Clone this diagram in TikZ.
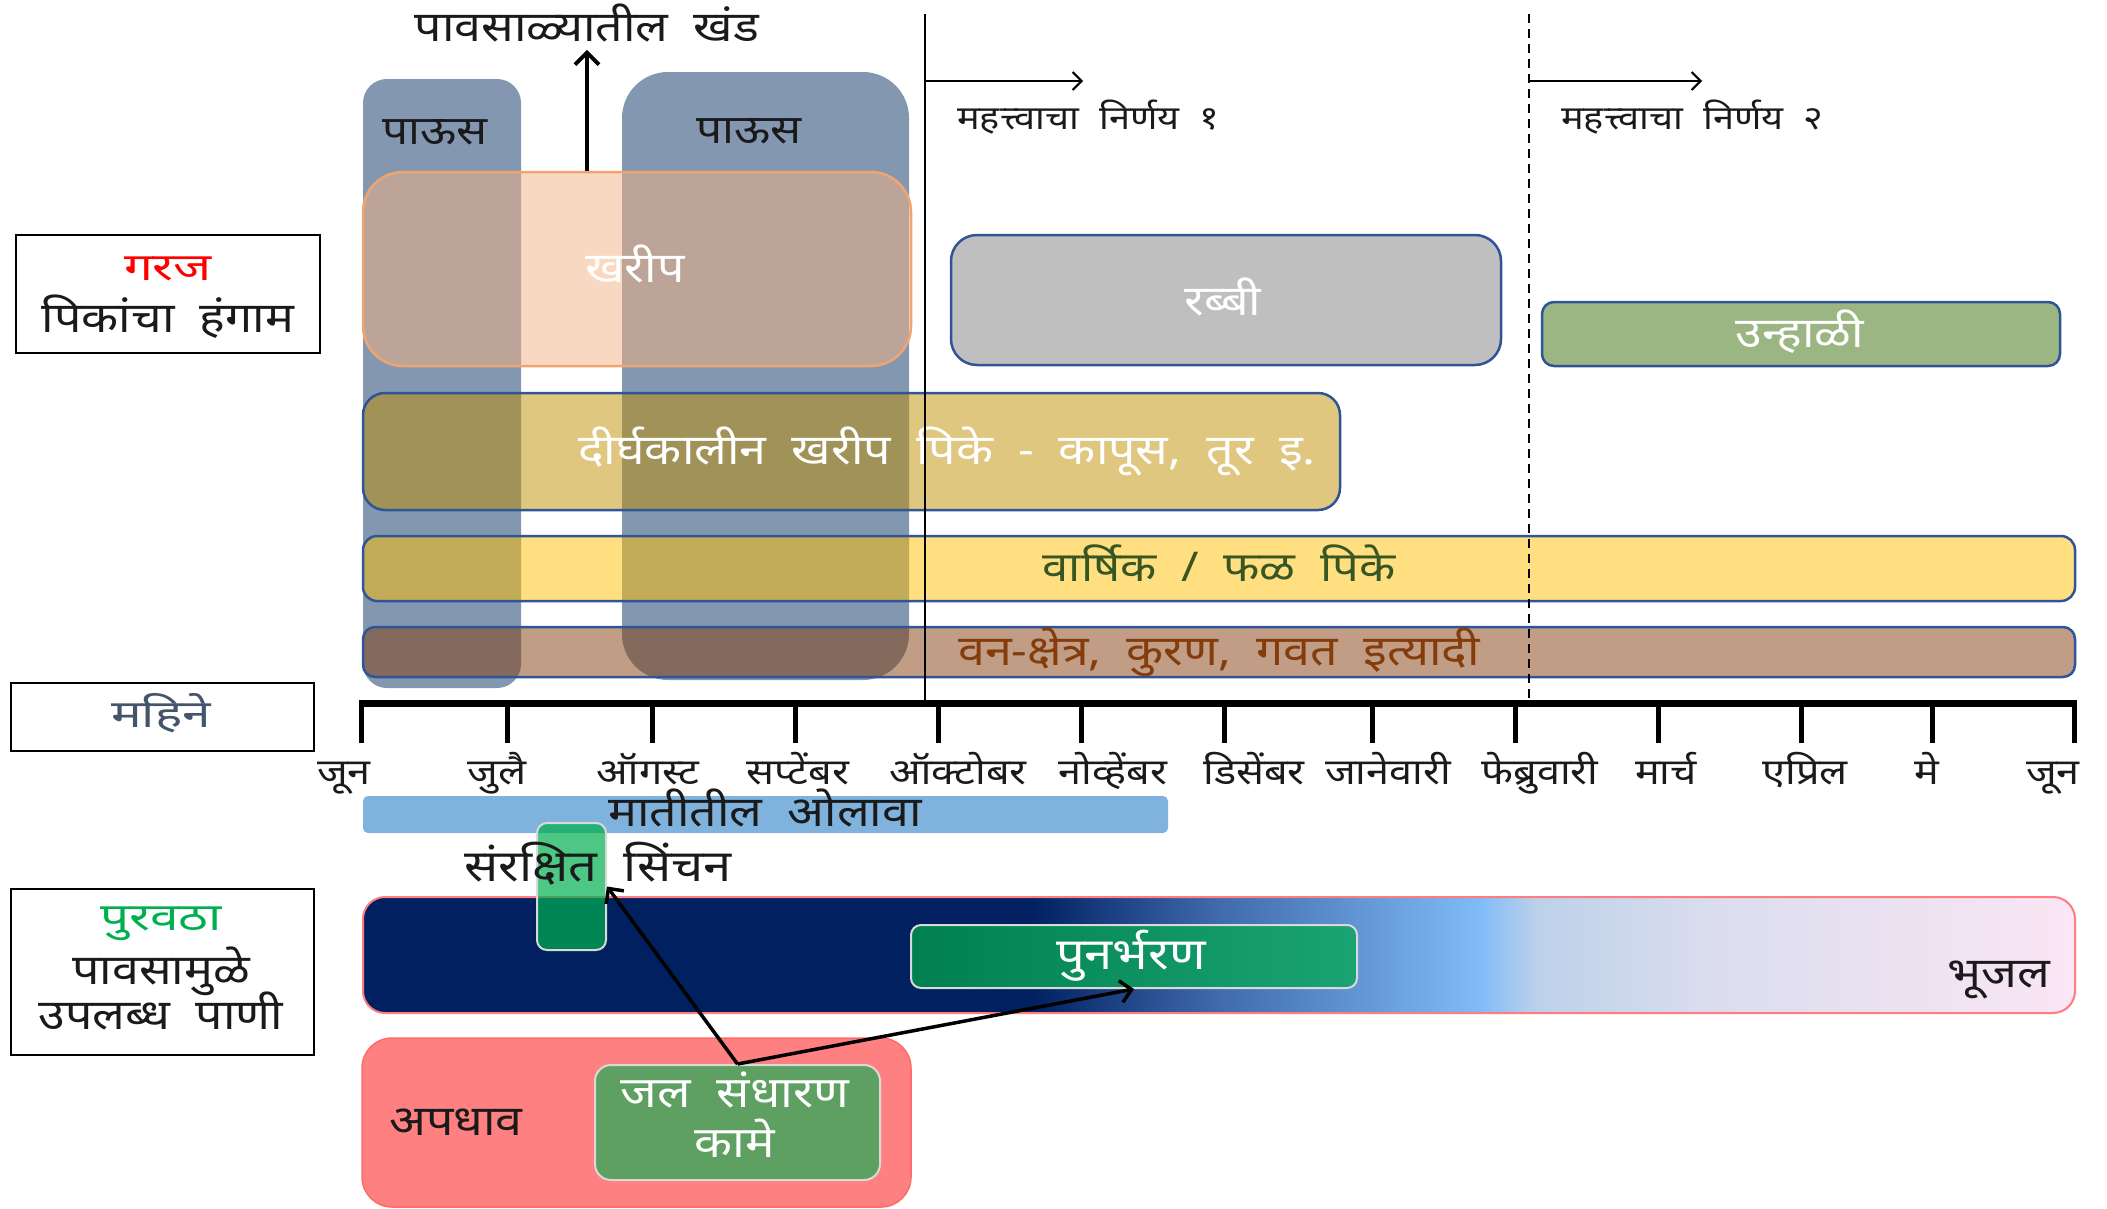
\documentclass[tikz,border=0pt]{standalone}
\usepackage{fontspec}
\newfontfamily\dev[Script=Devanagari, FakeStretch=1.15, WordSpace=2]{Noto Sans}
\newfontfamily\devb[Script=Devanagari, FakeStretch=1.35, WordSpace=2]{Noto Sans}
\usetikzlibrary{arrows.meta,calc}
\definecolor{rainc}{HTML}{8497B0}
\definecolor{khc}{HTML}{F4B183}
\definecolor{khd}{HTML}{F0A470}
\definecolor{goldc}{HTML}{BF8F00}
\definecolor{yelc}{HTML}{FFC000}
\definecolor{brnc}{HTML}{843C0C}
\definecolor{bordc}{HTML}{2F5597}
\definecolor{grayc}{HTML}{BFBFBF}
\definecolor{unhc}{HTML}{9BB583}
\definecolor{soilc}{HTML}{7FB3DD}
\definecolor{navyc}{HTML}{002060}
\definecolor{midbc}{HTML}{3C66A8}
\definecolor{skyc}{HTML}{80BCF8}
\definecolor{palec}{HTML}{BCD1EA}
\definecolor{lavc}{HTML}{DADDEE}
\definecolor{pinkc}{HTML}{FBE6F5}
\definecolor{grnc}{HTML}{00B050}
\definecolor{pgl}{HTML}{008050}
\definecolor{pgr}{HTML}{1BA374}
\definecolor{harvc}{HTML}{5DA061}
\definecolor{runc}{HTML}{FF8080}
\definecolor{runbd}{HTML}{FF6B6B}
\definecolor{dgrnc}{HTML}{375623}
\definecolor{slatec}{HTML}{44546A}
\definecolor{gwbd}{HTML}{FF7C80}
\definecolor{inkc}{HTML}{1A1A1A}
\newcommand\fz[2]{\fontsize{#1}{#2}\selectfont}
\begin{document}
\begin{tikzpicture}[x=1pt,y=-1pt,
  txt/.style={font=\dev\fz{#1}{#1}, inner sep=0pt, anchor=base, text=inkc, yshift=-2pt},
  btxt/.style={font=\devb\bfseries\fz{#1}{#1}, inner sep=0pt, anchor=base, yshift=-2pt},
  rainbox/.style={fill=rainc, inner sep=0pt},
  pane/.style={draw=bordc, line width=2.5pt, fill opacity=0.5, text opacity=1, inner sep=0pt},
  solidbox/.style={draw=bordc, line width=2.5pt, inner sep=0pt},
  keybox/.style={draw=black, line width=2.5pt, inner sep=0pt, fill=white},
  thinarrow/.style={line width=2pt, -{Straight Barb[length=9pt,width=18pt,line width=2pt]}},
  conn/.style={line width=3.5pt, -{Straight Barb[length=11pt,width=22pt,line width=3.5pt]}},
  lightbd/.style={draw=white!70!gray, line width=2pt, inner sep=0pt}
]
\useasboundingbox (0,0) rectangle (2107,1208);

% rain periods
\node[rainbox, rounded corners=24pt, minimum width=158pt, minimum height=609pt] (rain1) at (442,383.5) {};
\node[rainbox, rounded corners=46pt, minimum width=287pt, minimum height=608pt] (rain2) at (765.5,376) {};
\node[txt=40] (rainl1) at (435,142) {पाऊस};
\node[txt=40] (rainl2) at (749,141) {पाऊस};

% crop seasons
\node[pane, draw=khd, fill=khc, rounded corners=40pt, minimum width=548pt, minimum height=194pt] (khareef) at (637,269) {};
\node[txt=42, text=white] (khareefl) at (635,280) {खरीप};
\node[solidbox, fill=grayc, rounded corners=26pt, minimum width=550pt, minimum height=130pt] (rabbi) at (1226,300) {};
\node[txt=42, text=white] (rabbil) at (1223,313) {रब्बी};
\node[solidbox, fill=unhc, rounded corners=12pt, minimum width=518pt, minimum height=64pt] (unhali) at (1801,334) {};
\node[txt=42, text=white] (unhalil) at (1800,345) {उन्हाळी};
\node[pane, fill=goldc, rounded corners=22pt, minimum width=977pt, minimum height=117pt] (dirgha) at (851.5,451.5) {};
\node[txt=42, text=white] (dirghal) at (947,462) {दीर्घकालीन खरीप पिके - कापूस, तूर इ.};
\node[pane, fill=yelc, rounded corners=14pt, minimum width=1712pt, minimum height=65pt] (varshik) at (1219,568.5) {};
\node[txt=41, text=dgrnc] (varshikl) at (1219,579) {वार्षिक / फळ पिके};
\node[pane, fill=brnc, rounded corners=12pt, minimum width=1712pt, minimum height=50pt] (van) at (1219,652) {};
\node[txt=42, text=brnc] (vanl) at (1219,663) {वन-क्षेत्र, कुरण, गवत इत्यादी};

% decision lines
\coordinate (d1top) at (925,14);
\coordinate (d1bot) at (925,703);
\coordinate (d2top) at (1529,14);
\coordinate (d2bot) at (1529,703);
\draw[line width=2pt] (d1top) -- (d1bot);
\draw[line width=2pt, dash pattern=on 9pt off 6pt] (d2top) -- (d2bot);
\coordinate (a1s) at (925,81);
\coordinate (a1e) at (1083,81);
\coordinate (a2s) at (1529,81);
\coordinate (a2e) at (1702,81);
\draw[thinarrow] (a1s) -- (a1e);
\draw[thinarrow] (a2s) -- (a2e);
\node[txt=33, anchor=base west] (dec1) at (957,127) {महत्त्वाचा निर्णय १};
\node[txt=33, anchor=base west] (dec2) at (1561,127) {महत्त्वाचा निर्णय २};

% monsoon break
\node[txt=42] (khand) at (587,39) {पावसाळ्यातील खंड};
\draw[line width=4pt, -{Straight Barb[length=12pt,width=24pt,line width=4pt]}] (khand.south |- khareef.north) -- ([yshift=-8pt]khand.south);

% months axis
\coordinate (axl) at (359,703);
\coordinate (axr) at (2077,703);
\draw[line width=7pt] (axl) -- (axr);
\foreach \tx/\lx/\nm/\lab in {361/344/m1/जून, 507/497/m2/जुलै, 652/648/m3/ऑगस्ट, 795/798/m4/सप्टेंबर, 938/958/m5/ऑक्टोबर, 1081/1113/m6/नोव्हेंबर, 1224/1254/m7/डिसेंबर, 1372/1388/m8/जानेवारी, 1515/1540/m9/फेब्रुवारी, 1658/1666/m10/मार्च, 1801/1805/m11/एप्रिल, 1932/1927/m12/मे, 2074/2053/m13/जून}{
  \draw[line width=5pt] (\tx,703) -- (\tx,743);
  \node[txt=36] (\nm) at (\lx,782) {\lab};
}

% soil moisture
\node[fill=soilc, rounded corners=5pt, minimum width=805pt, minimum height=37pt, inner sep=0pt] (soil) at (765.5,814.5) {};
\node[txt=42] (soill) at (765,824) {मातीतील ओलावा};

% groundwater bar
\begin{scope}
\clip[rounded corners=22pt] (363,897) rectangle (2075,1013);
\fill[navyc] (360,895) rectangle (1031,1015);
\shade[left color=navyc, right color=midbc] (1030,895) rectangle (1206,1015);
\shade[left color=midbc, right color=skyc] (1205,895) rectangle (1481,1015);
\shade[left color=skyc, right color=palec] (1480,895) rectangle (1537,1015);
\shade[left color=palec, right color=lavc] (1536,895) rectangle (1707,1015);
\shade[left color=lavc, right color=pinkc] (1706,895) rectangle (2078,1015);
\end{scope}
\node[draw=gwbd, line width=2pt, rounded corners=22pt, minimum width=1712pt, minimum height=116pt, inner sep=0pt] (gw) at (1219,955) {};
\node[txt=42] (bhujal) at (1999,985) {भूजल};
\node[lightbd, left color=pgl, right color=pgr, rounded corners=10pt, minimum width=446pt, minimum height=63pt] (punar) at (1134,956.5) {};
\node[txt=44, text=white] (punarl) at (1131,967) {पुनर्भरण};

% protective irrigation
\node[lightbd, fill=grnc, fill opacity=0.7, rounded corners=10pt, minimum width=69pt, minimum height=127pt] (sinch) at (571.5,886.5) {};
\node[txt=44] (sinchl) at (598,879) {संरक्षित सिंचन};

% runoff and harvesting
\node[fill=runc, draw=runbd, line width=1.5pt, rounded corners=30pt, minimum width=549pt, minimum height=169pt, inner sep=0pt] (runoff) at (636.5,1122.5) {};
\node[txt=42] (runoffl) at (456,1133) {अपधाव};
\node[lightbd, fill=harvc, rounded corners=16pt, minimum width=285pt, minimum height=115pt] (harv) at (737.5,1122.5) {};
\node[txt=43, text=white] (harvl1) at (735,1105) {जल संधारण};
\node[txt=43, text=white] (harvl2) at (735,1155) {कामे};
\draw[conn] (harv.north) -- (sinch.east);
\draw[conn] (harv.north) -- (punar.south);

% key boxes
\node[keybox, minimum width=304pt, minimum height=118pt] (needbox) at (168,294) {};
\node[btxt=38, text=red] (needl1) at (168,278) {गरज};
\node[txt=42] (needl2) at (168,330) {पिकांचा हंगाम};
\node[keybox, minimum width=303pt, minimum height=68pt] (monbox) at (162.5,717) {};
\node[btxt=38, text=slatec] (monl) at (161,725) {महिने};
\node[keybox, minimum width=303pt, minimum height=166pt] (supbox) at (162.5,972) {};
\node[btxt=38, text=grnc] (supl1) at (161,928) {पुरवठा};
\node[txt=42] (supl2) at (161,982) {पावसामुळे};
\node[txt=42] (supl3) at (161,1027) {उपलब्ध पाणी};
\end{tikzpicture}
\end{document}
